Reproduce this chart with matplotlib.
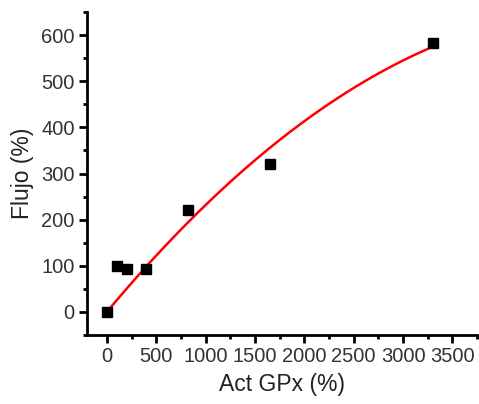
import numpy as np
import matplotlib.pyplot as plt
from matplotlib.ticker import MultipleLocator

act_gpx = [0, 100, 200, 400, 820, 1650, 3300]
flujo = [0, 100, 93, 93, 220, 320, 582]

plt.rcParams['font.family'] = ['Liberation Sans', 'DejaVu Sans']

fig = plt.figure(figsize=(4.79, 4.04), dpi=100)
ax = fig.add_axes([0.182, 0.171, 0.814, 0.799])

# ajuste cuadratico que pasa por el origen
x = np.array(act_gpx, dtype=float)
y = np.array(flujo, dtype=float)
A = np.column_stack([x, x**2])
b, c = np.linalg.lstsq(A, y, rcond=None)[0]
xs = np.linspace(x.min(), x.max(), 200)
ax.plot(xs, b * xs + c * xs**2, color='#ff0000', lw=1.8, zorder=2)
ax.plot(act_gpx, flujo, 's', color='black', ms=7, zorder=3)

ax.set_xlim(-200, 3750)
ax.set_ylim(-50, 650)
ax.xaxis.set_major_locator(MultipleLocator(500))
ax.xaxis.set_minor_locator(MultipleLocator(250))
ax.yaxis.set_major_locator(MultipleLocator(100))
ax.yaxis.set_minor_locator(MultipleLocator(50))

for s in ['top', 'right']:
    ax.spines[s].set_visible(False)
for s in ['left', 'bottom']:
    ax.spines[s].set_linewidth(2)

ax.tick_params(which='major', direction='out', length=6, width=2, labelsize=14.5, labelcolor='#333333', pad=3)
ax.tick_params(which='minor', direction='out', length=3, width=2)

ax.set_xlabel('Act GPx (%)', fontsize=16.5, color='#222222', labelpad=5)
ax.set_ylabel('Flujo (%)', fontsize=16.5, color='#222222', labelpad=5)

fig.savefig('out.png', dpi=100)
